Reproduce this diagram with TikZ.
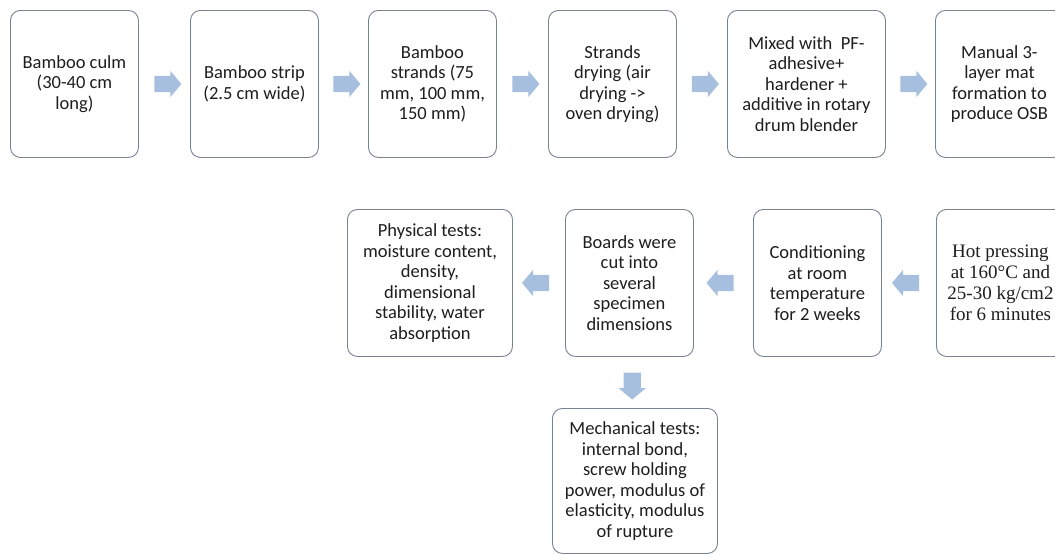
\documentclass[tikz,border=0pt]{standalone}
\usepackage{fontspec}
\setmainfont{Carlito}
\newfontfamily\timesf{Liberation Serif}
\usetikzlibrary{shapes.arrows,calc}
\definecolor{boxline}{RGB}{120,130,145}
\definecolor{arrowfill}{RGB}{167,191,222}
\definecolor{txt}{RGB}{30,30,30}
\tikzset{
  stepbox/.style={draw=boxline, line width=0.9pt, rounded corners=10pt, fill=white,
    inner sep=0pt, align=center, text=txt, font=\fontsize{18.5}{20.5}\selectfont,
    anchor=north west, minimum width=128pt, minimum height=147pt},
  widebox/.style={stepbox, minimum width=165pt},
  barrow/.style={single arrow, fill=arrowfill, draw=none, minimum height=27pt,
    single arrow head extend=5pt, inner xsep=0pt, inner ysep=8pt,
    single arrow tip angle=100, single arrow head indent=0pt}
}
\begin{document}
\begin{tikzpicture}[x=1pt,y=-1pt]
\useasboundingbox (0,0) rectangle (1055,554);
\clip (0,0) rectangle (1055,554);
% top row
\node[stepbox] (b1) at (10,10) {Bamboo culm\\(30-40 cm\\long)};
\node[stepbox] (b2) at (190,10) {Bamboo strip\\(2.5 cm wide)};
\node[stepbox] (b3) at (368,10) {Bamboo\\strands (75\\mm, 100 mm,\\150 mm)};
\node[stepbox] (b4) at (548,10) {Strands\\drying (air\\drying ->\\oven drying)};
\node[stepbox, minimum width=158pt] (b5) at (727,10) {Mixed with~ PF-\\adhesive+\\hardener +\\additive in rotary\\drum blender};
\node[stepbox] (b6) at (935,10) {Manual 3-\\layer mat\\formation to\\produce OSB};
% second row
\node[stepbox, font=\timesf\fontsize{19}{20.8}\selectfont] (b7) at (936,209) {Hot pressing\\at 160°C and\\25-30 kg/cm2\\for 6 minutes};
\node[stepbox] (b8) at (753,209) {Conditioning\\at room\\temperature\\for 2 weeks};
\node[stepbox] (b9) at (565,209) {Boards were\\cut into\\several\\specimen\\dimensions};
\node[widebox] (b10) at (347,209) {Physical tests:\\moisture content,\\density,\\dimensional\\stability, water\\absorption};
% third row
\node[widebox, minimum height=145pt] (b11) at (552,408) {Mechanical tests:\\internal bond,\\screw holding\\power, modulus of\\elasticity, modulus\\of rupture};
% arrows
\node[barrow] (a1) at ($(b1.east)!0.5!(b2.west)$) {};
\node[barrow] (a2) at ($(b2.east)!0.5!(b3.west)$) {};
\node[barrow] (a3) at ($(b3.east)!0.5!(b4.west)$) {};
\node[barrow] (a4) at ($(b4.east)!0.5!(b5.west)$) {};
\node[barrow] (a5) at ($(b5.east)!0.5!(b6.west)$) {};
\node[barrow, shape border rotate=180] (a6) at ($(b7.west)!0.5!(b8.east)$) {};
\node[barrow, shape border rotate=180] (a7) at ($(b8.west)!0.5!(b9.east)$) {};
\node[barrow, shape border rotate=180] (a8) at ($(b9.west)!0.5!(b10.east)$) {};
\node[barrow, shape border rotate=270, inner xsep=8.5pt, inner ysep=0pt] (a9) at ($(b9.south)!0.5!(b11.north)$) {};
\end{tikzpicture}
\end{document}
